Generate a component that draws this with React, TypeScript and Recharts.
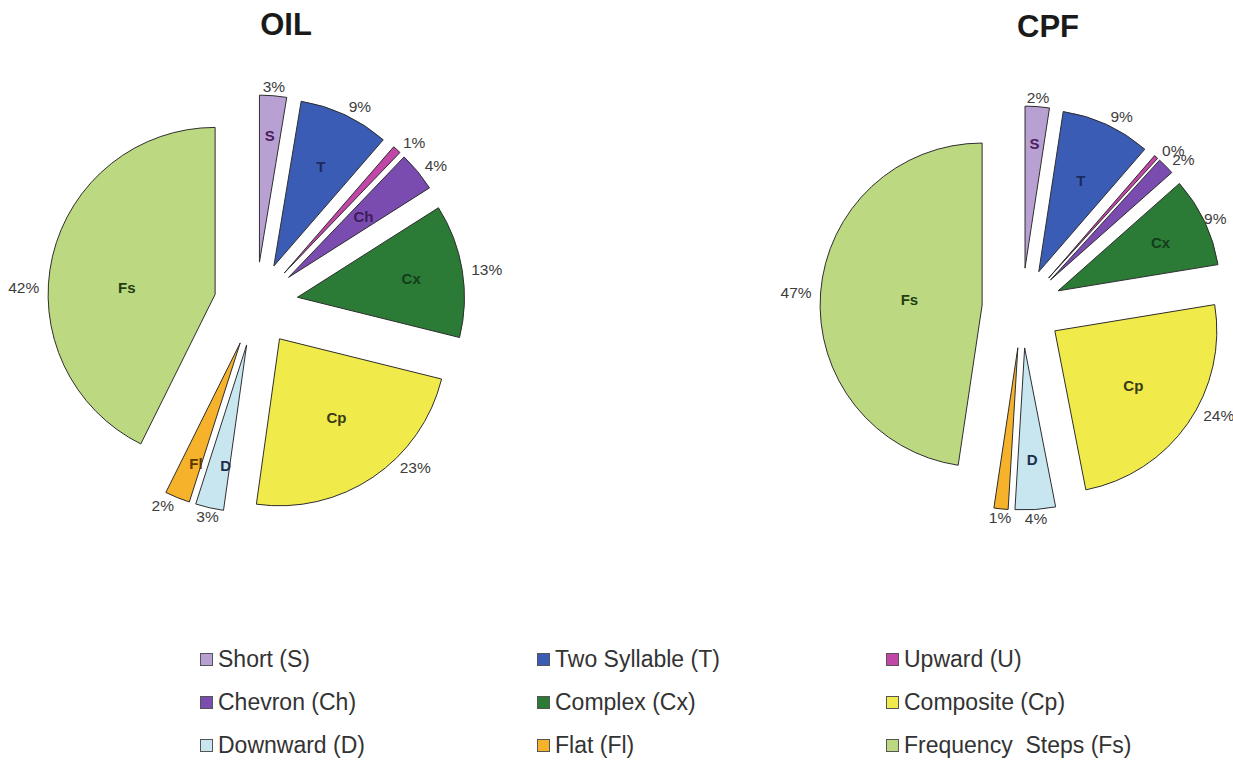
import { PieChart, Pie, Sector, Legend } from 'recharts'

// call types, in legend order
const codes = ['S', 'T', 'U', 'Ch', 'Cx', 'Cp', 'D', 'Fl', 'Fs']
const names = [
  'Short (S)',
  'Two Syllable (T)',
  'Upward (U)',
  'Chevron (Ch)',
  'Complex (Cx)',
  'Composite (Cp)',
  'Downward (D)',
  'Flat (Fl)',
  'Frequency  Steps (Fs)',
]

// share of calls per type, % (labels show the rounded value)
const oilValues = [2.6, 8.7, 0.8, 3.8, 12.8, 23.2, 2.7, 2.4, 42.4]
const cpfValues = [2.4, 8.9, 0.4, 1.7, 8.9, 24.4, 4.0, 1.4, 47.4]

const FILLS = ['#b9a0d3', '#3b5cb5', '#c146a8', '#7a4cb0', '#2b7b36', '#f0ea4a', '#c8e6f0', '#f5b22a', '#bcd981']
const INK = ['#4a2160', '#1c2a5c', '#5a1a4a', '#3b1d5c', '#133d1a', '#3a3a14', '#1f2d4c', '#5a3800', '#213f12']
const EDGE = '#2e2e2e'
const FONT = '"Liberation Sans", Arial, sans-serif'

// inner abbreviation: [distance as fraction of radius, angle shift in degrees]
const oilInner: Record<string, [number, number]> = {
  S: [0.76, 0], T: [0.66, 0], Ch: [0.58, 0], Cx: [0.69, 0],
  Cp: [0.58, 2], D: [0.73, 3], Fl: [0.77, 2], Fs: [0.53, 9],
}
const cpfInner: Record<string, [number, number]> = {
  S: [0.77, 0], T: [0.62, 0], Cx: [0.7, 0], Cp: [0.59, 0], D: [0.69, 0], Fs: [0.45, 0],
}
// percent labels placed off the default spot: [angle shift in degrees, gap from the arc]
const oilNudge: Record<string, [number, number]> = { Cp: [9, 9], Fs: [11, 9] }
const cpfNudge: Record<string, [number, number]> = { Cp: [5, 9], Cx: [1, 1] }

const RAD = Math.PI / 180
const dirOf = (deg: number) => ({ x: Math.cos(-deg * RAD), y: Math.sin(-deg * RAD) })

function sliceRenderer(explode: number) {
  return (p: any) => {
    const d = dirOf(p.midAngle)
    return (
      <Sector
        cx={p.cx + d.x * explode}
        cy={p.cy + d.y * explode}
        innerRadius={0}
        outerRadius={p.outerRadius}
        startAngle={p.startAngle}
        endAngle={p.endAngle}
        fill={FILLS[p.index]}
        stroke={EDGE}
        strokeWidth={1}
      />
    )
  }
}

function textRenderer(
  values: number[],
  explode: number,
  inner: Record<string, [number, number]>,
  nudge: Record<string, [number, number]>,
) {
  return (p: any) => {
    const code = codes[p.index]
    const d = dirOf(p.midAngle)
    const ax = p.cx + d.x * explode
    const ay = p.cy + d.y * explode
    const [shift, gap] = nudge[code] ?? [0, 9]
    const la = dirOf(p.midAngle + shift)
    const lr = p.outerRadius + gap
    const anchor = la.x > 0.35 ? 'start' : la.x < -0.35 ? 'end' : 'middle'
    const spec = inner[code]
    let innerText = null
    if (spec) {
      const ia = dirOf(p.midAngle + spec[1])
      const ir = p.outerRadius * spec[0]
      innerText = (
        <text
          x={ax + ia.x * ir}
          y={ay + ia.y * ir}
          textAnchor="middle"
          dominantBaseline="central"
          fontFamily={FONT}
          fontWeight="bold"
          fontSize={15}
          fill={INK[p.index]}
        >
          {code}
        </text>
      )
    }
    return (
      <g>
        {innerText}
        <text
          x={ax + la.x * lr}
          y={ay + la.y * lr}
          textAnchor={anchor}
          dominantBaseline="central"
          fontFamily={FONT}
          fontSize={15.5}
          fill="#3c3c3c"
        >
          {`${Math.round(values[p.index])}%`}
        </text>
      </g>
    )
  }
}

const oilRows = codes.map((c, i) => ({ name: c, value: oilValues[i] }))
const cpfRows = codes.map((c, i) => ({ name: c, value: cpfValues[i] }))

const legendCols = [200, 537, 886]
const legendRows = [26, 69, 112]

function LegendGrid() {
  return (
    <div style={{ position: 'relative', width: 1233, height: 125, fontFamily: FONT }}>
      {names.map((n, i) => {
        const x = legendCols[i % 3]
        const y = legendRows[Math.floor(i / 3)]
        return (
          <div
            key={n}
            style={{ position: 'absolute', left: x, top: y - 13, height: 26, display: 'flex', alignItems: 'center' }}
          >
            <span
              style={{
                width: 13,
                height: 13,
                background: FILLS[i],
                border: '1px solid #555',
                marginRight: 5,
                boxSizing: 'border-box',
              }}
            />
            <span style={{ fontSize: 23, color: '#333', whiteSpace: 'pre' }}>{n}</span>
          </div>
        )
      })}
    </div>
  )
}

const titleStyle = {
  position: 'absolute' as const,
  width: 160,
  textAlign: 'center' as const,
  fontFamily: FONT,
  fontWeight: 'bold' as const,
  fontSize: 31,
  lineHeight: '31px',
  color: '#1a1a1a',
}

export default function App() {
  return (
    <div style={{ position: 'absolute', left: 0, top: 0, width: 1233, height: 761, overflow: 'hidden', background: '#fff' }}>
      <PieChart width={1233} height={761} margin={{ top: 0, right: 0, bottom: 0, left: 0 }}>
        {/* OIL */}
        <Pie
          data={oilRows}
          dataKey="value"
          nameKey="name"
          cx={256}
          cy={304}
          outerRadius={167}
          startAngle={90}
          endAngle={-270}
          fill="none"
          stroke="none"
          label={sliceRenderer(42)}
          labelLine={false}
          isAnimationActive={false}
        />
        <Pie
          data={oilRows}
          dataKey="value"
          nameKey="name"
          cx={256}
          cy={304}
          outerRadius={167}
          startAngle={90}
          endAngle={-270}
          fill="none"
          stroke="none"
          label={textRenderer(oilValues, 42, oilInner, oilNudge)}
          labelLine={false}
          isAnimationActive={false}
        />
        {/* CPF */}
        <Pie
          data={cpfRows}
          dataKey="value"
          nameKey="name"
          cx={1022}
          cy={308}
          outerRadius={162}
          startAngle={90}
          endAngle={-270}
          fill="none"
          stroke="none"
          label={sliceRenderer(40)}
          labelLine={false}
          isAnimationActive={false}
        />
        <Pie
          data={cpfRows}
          dataKey="value"
          nameKey="name"
          cx={1022}
          cy={308}
          outerRadius={162}
          startAngle={90}
          endAngle={-270}
          fill="none"
          stroke="none"
          label={textRenderer(cpfValues, 40, cpfInner, cpfNudge)}
          labelLine={false}
          isAnimationActive={false}
        />
        <Legend
          content={() => <LegendGrid />}
          wrapperStyle={{ left: 0, top: 633, bottom: 'auto', width: 1233 }}
        />
      </PieChart>
      <div style={{ ...titleStyle, left: 286 - 80, top: 9 }}>OIL</div>
      <div style={{ ...titleStyle, left: 1048 - 80, top: 11 }}>CPF</div>
    </div>
  )
}
